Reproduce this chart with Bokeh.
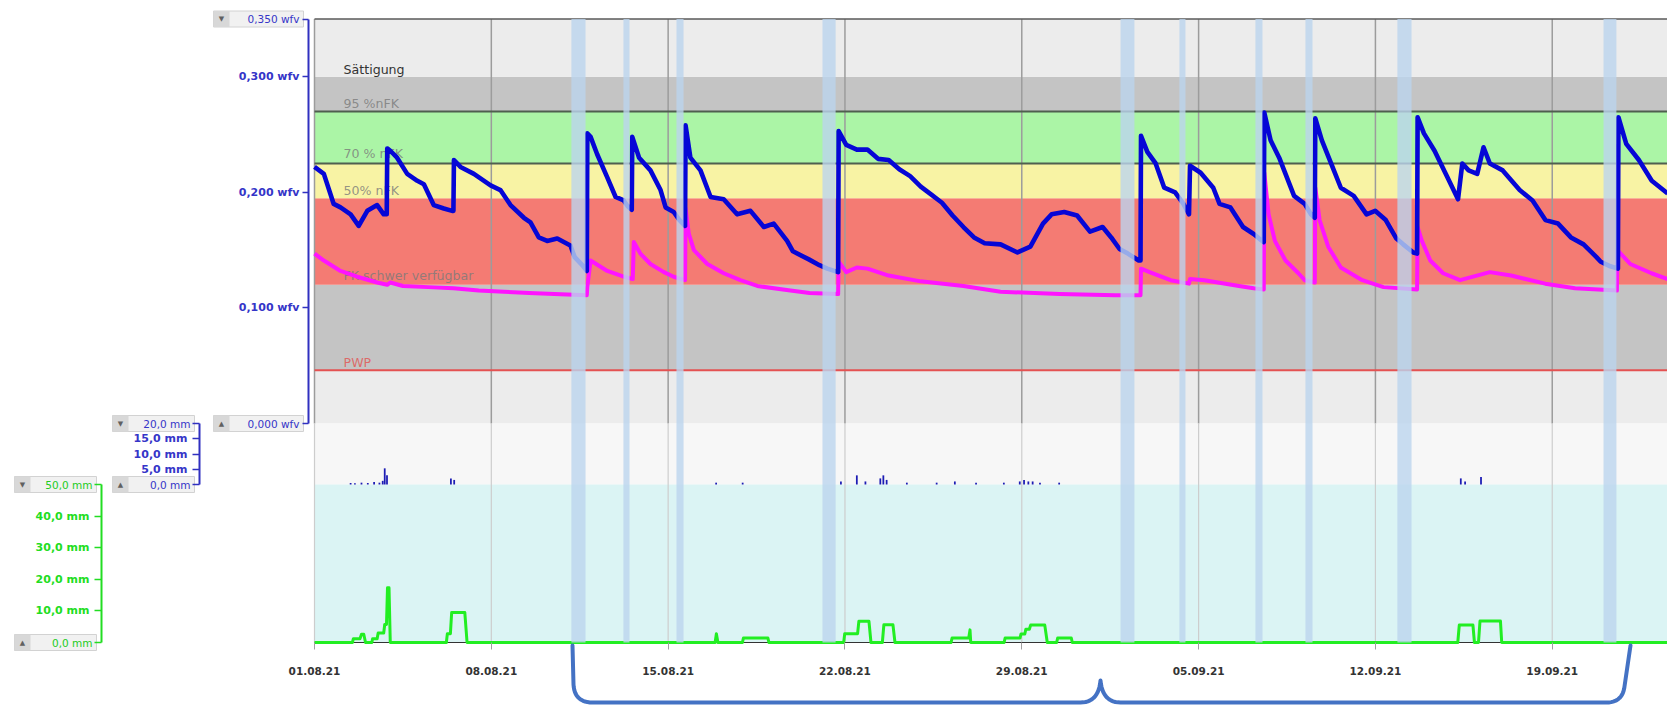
import numpy as np
import pandas as pd
from bokeh.plotting import figure
from bokeh.models import (Range1d, LinearAxis, DatetimeAxis, FixedTicker,
                          CustomJSTickFormatter, DatetimeTickFormatter)
from bokeh.core.properties import value
from bokeh.embed import file_html
from bokeh.resources import INLINE

# ---------------------------------------------------------------- data
start_date = "2021-08-01"
end_day = 56
week_days = [0, 7, 14, 21, 28, 35, 42, 49]

# soil moisture, upper sensor (day offset, wfv)
blue_pts = [
    (0.00, 0.222), (0.37, 0.216), (0.76, 0.190), (1.03, 0.187), (1.43, 0.181), (1.75, 0.171),
    (2.09, 0.184), (2.48, 0.189), (2.74, 0.181), (2.86, 0.181), (2.88, 0.238), (3.00, 0.236),
    (3.27, 0.230), (3.67, 0.216), (4.07, 0.210), (4.33, 0.207), (4.72, 0.189), (5.12, 0.186),
    (5.45, 0.184), (5.50, 0.184), (5.52, 0.228), (5.78, 0.222), (6.31, 0.216), (6.97, 0.206),
    (7.36, 0.202), (7.76, 0.189), (8.29, 0.178), (8.55, 0.174), (8.88, 0.161), (9.21, 0.158),
    (9.61, 0.160), (10.13, 0.154), (10.30, 0.144), (10.60, 0.137), (10.78, 0.132), (10.80, 0.251),
    (10.93, 0.248), (11.19, 0.233), (11.59, 0.213), (11.92, 0.196), (12.24, 0.193), (12.40, 0.188),
    (12.56, 0.185), (12.58, 0.248), (12.85, 0.230), (13.30, 0.219), (13.70, 0.202), (13.90, 0.187),
    (14.22, 0.183), (14.45, 0.176), (14.67, 0.171), (14.69, 0.258), (14.88, 0.230), (15.28, 0.219),
    (15.68, 0.196), (16.20, 0.194), (16.73, 0.181), (17.26, 0.184), (17.79, 0.170), (18.18, 0.173),
    (18.71, 0.158), (18.94, 0.149), (19.57, 0.142), (19.99, 0.137), (20.30, 0.134), (20.73, 0.131),
    (20.75, 0.253), (21.05, 0.241), (21.47, 0.237), (21.89, 0.237), (22.31, 0.229), (22.73, 0.228),
    (23.15, 0.220), (23.58, 0.214), (24.00, 0.205), (24.42, 0.198), (24.84, 0.191), (25.26, 0.180),
    (25.69, 0.170), (26.11, 0.161), (26.53, 0.156), (27.16, 0.155), (27.83, 0.148), (28.34, 0.153),
    (28.84, 0.173), (29.18, 0.181), (29.68, 0.183), (30.19, 0.180), (30.70, 0.166), (31.20, 0.170),
    (31.54, 0.161), (31.87, 0.151), (32.20, 0.147), (32.63, 0.141), (32.70, 0.141), (32.72, 0.249),
    (32.97, 0.235), (33.30, 0.225), (33.64, 0.204), (34.07, 0.200), (34.40, 0.190), (34.62, 0.181),
    (34.66, 0.223), (35.08, 0.217), (35.58, 0.204), (35.83, 0.190), (36.26, 0.187), (36.76, 0.170),
    (37.18, 0.164), (37.40, 0.160), (37.58, 0.157), (37.60, 0.269), (37.85, 0.245), (38.19, 0.230),
    (38.78, 0.197), (39.20, 0.190), (39.45, 0.181), (39.60, 0.178), (39.62, 0.264), (39.88, 0.245),
    (40.30, 0.222), (40.63, 0.204), (41.14, 0.197), (41.65, 0.181), (41.99, 0.184), (42.41, 0.176),
    (42.83, 0.160), (43.10, 0.155), (43.50, 0.148), (43.65, 0.147), (43.67, 0.265), (43.92, 0.251),
    (44.34, 0.236), (44.85, 0.213), (45.27, 0.194), (45.44, 0.225), (45.69, 0.219), (46.03, 0.216),
    (46.28, 0.239), (46.53, 0.225), (47.04, 0.219), (47.71, 0.202), (48.22, 0.193), (48.73, 0.176),
    (49.23, 0.173), (49.74, 0.161), (50.24, 0.155), (50.75, 0.144), (50.92, 0.140), (51.30, 0.136),
    (51.60, 0.134), (51.62, 0.265), (51.93, 0.242), (52.43, 0.228), (52.94, 0.210), (53.57, 0.199),
]

# soil moisture, lower sensor (day offset, wfv)
magenta_pts = [
    (0.00, 0.147), (0.37, 0.141), (1.03, 0.132), (1.69, 0.127), (2.48, 0.122), (2.88, 0.120),
    (3.00, 0.122), (3.50, 0.119), (4.50, 0.118), (5.50, 0.117), (6.50, 0.115), (7.50, 0.114),
    (8.50, 0.113), (9.50, 0.112), (10.78, 0.111), (10.80, 0.118), (10.93, 0.141), (11.59, 0.132),
    (12.24, 0.127), (12.60, 0.125), (12.64, 0.157), (12.90, 0.147), (13.30, 0.138), (13.83, 0.131),
    (14.22, 0.127), (14.67, 0.124), (14.69, 0.186), (14.82, 0.164), (15.02, 0.150), (15.55, 0.138),
    (16.20, 0.130), (16.86, 0.124), (17.53, 0.119), (18.84, 0.115), (19.60, 0.113), (20.73, 0.112),
    (20.75, 0.140), (21.05, 0.131), (21.47, 0.135), (21.89, 0.134), (22.73, 0.128), (24.00, 0.123),
    (25.69, 0.119), (27.16, 0.114), (29.50, 0.112), (31.70, 0.111), (32.70, 0.111), (32.72, 0.134),
    (33.06, 0.131), (33.89, 0.124), (34.62, 0.121), (34.66, 0.125), (35.23, 0.124), (36.60, 0.119),
    (37.18, 0.117), (37.58, 0.116), (37.60, 0.217), (37.77, 0.181), (38.02, 0.158), (38.44, 0.141),
    (38.95, 0.130), (39.20, 0.124), (39.60, 0.122), (39.62, 0.204), (39.79, 0.176), (40.13, 0.153),
    (40.63, 0.135), (41.48, 0.124), (42.32, 0.118), (43.65, 0.116), (43.67, 0.170), (43.84, 0.158),
    (44.17, 0.141), (44.68, 0.130), (45.35, 0.124), (46.53, 0.131), (47.37, 0.128), (48.72, 0.121),
    (49.90, 0.117), (51.56, 0.115), (51.58, 0.150), (52.09, 0.138), (52.93, 0.130), (53.57, 0.125),
]

# precipitation bars (day offset, mm)
rain_pts = [
    (1.43, 0.5), (1.60, 0.4), (1.86, 0.6), (2.11, 0.5), (2.36, 0.8), (2.57, 0.6), (2.70, 1.2),
    (2.78, 5.3), (2.87, 3.0), (5.40, 2.0), (5.53, 1.5), (15.90, 0.6), (16.95, 0.6), (20.84, 1.0),
    (21.47, 3.0), (21.81, 1.0), (22.40, 2.0), (22.52, 3.0), (22.65, 1.5), (23.45, 0.6), (24.63, 0.6),
    (25.35, 1.0), (26.19, 0.6), (27.29, 0.6), (27.92, 1.0), (28.09, 1.5), (28.26, 1.0), (28.43, 1.0),
    (28.72, 0.6), (29.48, 0.6), (45.38, 2.0), (45.55, 1.0), (46.18, 2.5),
]

# irrigation (day offset, mm)
irr_pts = [
    (0.00, 0), (1.50, 0), (1.54, 1.2), (1.80, 1.2), (1.86, 2.6), (1.95, 2.6), (2.02, 0), (2.27, 0),
    (2.30, 1.2), (2.48, 1.2), (2.52, 3.0), (2.74, 3.0), (2.78, 5.7), (2.85, 5.7), (2.89, 17.3),
    (2.95, 17.3), (3.00, 0), (5.22, 0), (5.26, 2.8), (5.38, 2.8), (5.43, 9.5), (5.95, 9.5),
    (6.04, 0), (15.86, 0), (15.91, 2.8), (15.97, 0), (16.94, 0), (16.98, 1.4), (17.95, 1.4),
    (17.99, 0), (20.95, 0), (20.99, 2.8), (21.50, 2.8), (21.55, 6.7), (21.95, 6.7), (22.03, 0),
    (22.48, 0), (22.54, 5.6), (22.90, 5.6), (22.98, 0), (25.20, 0), (25.24, 1.4), (25.90, 1.4),
    (25.95, 4.0), (25.98, 0), (27.30, 0), (27.34, 1.4), (27.93, 1.4), (27.97, 2.7), (28.12, 2.7),
    (28.16, 4.2), (28.30, 4.2), (28.35, 5.5), (28.91, 5.5), (29.01, 0), (29.38, 0), (29.42, 1.4),
    (29.96, 1.4), (30.00, 0), (45.26, 0), (45.32, 5.5), (45.86, 5.5), (45.92, 0), (46.08, 0),
    (46.14, 6.8), (46.95, 6.8), (47.00, 0), (56.00, 0),
]

# irrigation events (highlighted columns), day offsets
event_start = [10.17, 12.23, 14.33, 20.11, 31.91, 34.24, 37.25, 39.23, 42.87, 51.03]
event_end = [10.73, 12.47, 14.61, 20.63, 32.46, 34.48, 37.53, 39.51, 43.43, 51.54]

# soil water zones (wfv)
zone_edges = [0.0, 0.046, 0.120, 0.195, 0.225, 0.270, 0.300, 0.350]
zone_colors = ["#ececec", "#c4c4c4", "#f47b73", "#f8f3a4", "#abf5a6", "#c4c4c4", "#ececec"]
limit_lines = [0.270, 0.225]
pwp_level = 0.046
zone_label_text = ["Sättigung", "95 %nFK", "70 % nFK", "50% nFK", "FK schwer verfügbar", "PWP"]
zone_label_wfv = [0.306, 0.277, 0.2336, 0.2016, 0.128, 0.053]

wfv_ticks = [0.0, 0.1, 0.2, 0.3, 0.35]
rain_ticks = [0.0, 5.0, 10.0, 15.0, 20.0]
irr_ticks = [0.0, 10.0, 20.0, 30.0, 40.0, 50.0]
end_box_text = ["0,350 wfv", "0,000 wfv", "20,0 mm", "0,0 mm", "50,0 mm", "0,0 mm"]

# ---------------------------------------------------------------- geometry (page pixels)
W, H = 1667, 707
X0 = 314.0          # pixel of 01.08.21
PXD = 25.26         # pixels per day
DAY = 86400000.0
T0 = pd.Timestamp(start_date).value / 1e6


def tx(d):
    return T0 + np.asarray(d, dtype=float) * DAY


def px2day(px):
    return (np.asarray(px, dtype=float) - X0) / PXD


def mapping(v_a, px_a, v_b, px_b):
    k = (v_b - v_a) / (px_b - px_a)
    return lambda px: v_a + (np.asarray(px, dtype=float) - px_a) * k


Y_W_TOP, Y_W0 = 18.5, 423.0      # 0.350 / 0.000 wfv
Y_R0 = 484.0                     # 0 mm rain (= 50 mm irrigation)
Y_I0 = 642.0                     # 0 mm irrigation
w_at = mapping(0.35, Y_W_TOP, 0.0, Y_W0)
r_at = mapping(20.0, Y_W0, 0.0, Y_R0)
i_at = mapping(50.0, Y_R0, 0.0, Y_I0)

p = figure(width=W, height=H, x_axis_type="datetime", x_axis_location=None, y_axis_location=None,
           x_range=Range1d(float(tx(px2day(0))), float(tx(px2day(W)))),
           y_range=Range1d(float(w_at(H)), float(w_at(0))),
           output_backend="svg", toolbar_location=None, min_border=0)
p.extra_y_ranges = {"rain": Range1d(float(r_at(H)), float(r_at(0))),
                    "irr": Range1d(float(i_at(H)), float(i_at(0)))}
p.outline_line_color = None
p.background_fill_color = "white"
p.border_fill_color = "white"
for g in p.grid:
    g.visible = False

x_first, x_last = float(tx(0)), float(tx(end_day))

# zones
p.quad(left=x_first, right=x_last, bottom=zone_edges[:-1], top=zone_edges[1:],
       fill_color=zone_colors, line_color=None)
p.quad(left=x_first, right=x_last, bottom=0, top=20, y_range_name="rain",
       fill_color="#f7f7f7", line_color=None)
p.quad(left=x_first, right=x_last, bottom=0, top=50, y_range_name="irr",
       fill_color="#dbf4f4", line_color=None)

# grid lines
wk = tx(week_days)
p.segment(x0=wk, x1=wk, y0=0.0, y1=0.35, line_color="#9c9c9c", line_width=1.5)
p.segment(x0=wk, x1=wk, y0=float(w_at(Y_I0)), y1=0.0, line_color="#cdcdcd", line_width=1.2)

# limit lines
p.segment(x0=x_first, x1=x_last, y0=limit_lines, y1=limit_lines, line_color="#4f5f4f", line_width=2)
p.segment(x0=x_first, x1=x_last, y0=pwp_level, y1=pwp_level, line_color="#e45252", line_width=2)
p.segment(x0=x_first, x1=x_last, y0=0.35, y1=0.35, line_color="#5a5a5a", line_width=1.5)

# zone labels
p.text(x=float(tx(1.15)), y=zone_label_wfv, text=zone_label_text,
       text_color=["#333333", "#7a7a7a", "#7a7a7a", "#7a7a7a", "#7a7a7a", "#e05a5a"],
       text_alpha=[1, 0.8, 0.8, 0.8, 0.8, 0.85],
       text_font=value("DejaVu Sans"), text_font_size="12.6px",
       text_baseline="middle", text_align="left")

# series
md, mv = zip(*magenta_pts)
bd, bv = zip(*blue_pts)
p.line(tx(md), list(mv), line_color="#ff14ff", line_width=4, line_join="round")
p.line(tx(bd), list(bv), line_color="#0606d6", line_width=4.6, line_join="round")

rd, rv = zip(*rain_pts)
p.vbar(x=tx(rd), width=0.07 * DAY, top=list(rv), bottom=0, y_range_name="rain",
       fill_color="#1c1cb4", line_color=None)

idy, imm = zip(*irr_pts)
p.line([x_first, x_last], [0, 0], y_range_name="irr", line_color="#333333", line_width=1.2)
p.line(tx(idy), list(imm), y_range_name="irr", line_color="#22ee22", line_width=3, line_join="round")

# event columns
p.quad(left=tx(event_start), right=tx(event_end), bottom=float(w_at(Y_I0)), top=0.35,
       fill_color="#bcd4ee", fill_alpha=0.8, line_color=None)

# ---------------------------------------------------------------- axes
AX_W, AX_R, AX_I = 308.0, 199.0, 101.0


def style_axis(ax, col, lab_col, tick_out=7, standoff=5):
    ax.axis_line_color = col
    ax.axis_line_width = 2
    ax.major_tick_line_color = col
    ax.major_tick_line_width = 1.5
    ax.major_tick_out = tick_out
    ax.major_tick_in = 0
    ax.minor_tick_out = 0
    ax.minor_tick_in = 0
    ax.major_label_text_color = lab_col
    ax.major_label_text_font = "DejaVu Sans"
    ax.major_label_text_font_size = "11px"
    ax.major_label_text_font_style = "bold"
    ax.major_label_standoff = standoff


fmt_w = CustomJSTickFormatter(code="""
if (Math.abs(tick) < 1e-9 || Math.abs(tick - 0.35) < 1e-9) { return ""; }
return tick.toFixed(3).replace(".", ",") + " wfv";
""")
fmt_r = CustomJSTickFormatter(code="""
if (Math.abs(tick) < 1e-9 || Math.abs(tick - 20) < 1e-9) { return ""; }
return tick.toFixed(1).replace(".", ",") + " mm";
""")
fmt_i = CustomJSTickFormatter(code="""
if (Math.abs(tick) < 1e-9 || Math.abs(tick - 50) < 1e-9) { return ""; }
return tick.toFixed(1).replace(".", ",") + " mm";
""")

ax_w = LinearAxis(fixed_location=float(tx(px2day(AX_W))), bounds=(0, 0.35),
                  ticker=FixedTicker(ticks=wfv_ticks), formatter=fmt_w)
style_axis(ax_w, "#3030c0", "#3535c8", tick_out=6, standoff=3)
p.add_layout(ax_w, "left")

ax_r = LinearAxis(y_range_name="rain", fixed_location=float(tx(px2day(AX_R))), bounds=(0, 20),
                  ticker=FixedTicker(ticks=rain_ticks), formatter=fmt_r)
style_axis(ax_r, "#3030c0", "#3535c8")
p.add_layout(ax_r, "left")

ax_i = LinearAxis(y_range_name="irr", fixed_location=float(tx(px2day(AX_I))), bounds=(0, 50),
                  ticker=FixedTicker(ticks=irr_ticks), formatter=fmt_i)
style_axis(ax_i, "#22dd22", "#22dd22")
p.add_layout(ax_i, "left")

dfmt = "%d.%m.%y"
ax_x = DatetimeAxis(y_range_name="irr", fixed_location=0, ticker=FixedTicker(ticks=list(wk)),
                    formatter=DatetimeTickFormatter(days=dfmt, months=dfmt, years=dfmt, hours=dfmt,
                                                    hourmin=dfmt, minutes=dfmt, minsec=dfmt,
                                                    seconds=dfmt, milliseconds=dfmt,
                                                    microseconds=dfmt))
ax_x.axis_line_color = None
ax_x.major_tick_line_color = "#a0a0a0"
ax_x.major_tick_out = 7
ax_x.major_tick_in = 0
ax_x.minor_tick_out = 0
ax_x.major_label_text_color = "#333333"
ax_x.major_label_text_font = "DejaVu Sans"
ax_x.major_label_text_font_size = "10.5px"
ax_x.major_label_text_font_style = "bold"
ax_x.major_label_standoff = 17
p.add_layout(ax_x, "below")

# boxed end-of-axis labels
boxes = [  # axis px, tick px, box width, text colour, arrow
    (AX_W, Y_W_TOP, 90, "#3535c8", "▼"),
    (AX_W, Y_W0, 90, "#3535c8", "▲"),
    (AX_R, Y_W0, 82, "#3535c8", "▼"),
    (AX_R, Y_R0, 82, "#3535c8", "▲"),
    (AX_I, Y_R0, 82, "#22cc22", "▼"),
    (AX_I, Y_I0, 82, "#22cc22", "▲"),
]
for (axp, typ, bw, col, arr), txt in zip(boxes, end_box_text):
    right = axp - 5
    left = right - bw
    top, bot = typ - 8, typ + 8
    p.quad(left=float(tx(px2day(left))), right=float(tx(px2day(right))),
           bottom=float(w_at(bot)), top=float(w_at(top)),
           fill_color="#f1f1f1", line_color="#d2d2d2", line_width=1)
    p.quad(left=float(tx(px2day(left))), right=float(tx(px2day(left + 16))),
           bottom=float(w_at(bot)), top=float(w_at(top)),
           fill_color="#d8d8d8", line_color=None)
    p.text(x=[float(tx(px2day(right - 4)))], y=[float(w_at(typ))], text=[txt],
           text_color=col, text_font=value("DejaVu Sans"), text_font_size="10.5px",
           text_align="right", text_baseline="middle")
    p.text(x=[float(tx(px2day(left + 8)))], y=[float(w_at(typ))], text=[arr],
           text_color="#606060", text_font=value("DejaVu Sans"), text_font_size="7px",
           text_align="center", text_baseline="middle")


# bracket annotation below the time axis (page pixels)
def qbez(p0, p1, p2, n=14):
    t = np.linspace(0, 1, n)[:, None]
    return (1 - t) ** 2 * np.array(p0) + 2 * (1 - t) * t * np.array(p1) + t ** 2 * np.array(p2)


bracket = np.vstack([
    [[572, 645], [573, 684]],
    qbez([573, 684], [574, 702], [592, 702]),
    [[1080, 702]],
    qbez([1080, 702], [1098, 702], [1100, 680]),
    qbez([1100, 680], [1102, 702], [1120, 702]),
    [[1606, 702]],
    qbez([1606, 702], [1622, 702], [1624, 686]),
    [[1630, 645]],
])
p.line(tx(px2day(bracket[:, 0])), w_at(bracket[:, 1]), line_color="#4472c4", line_width=4,
       line_cap="round", line_join="round")

open("out.html", "w").write(file_html(p, INLINE))
